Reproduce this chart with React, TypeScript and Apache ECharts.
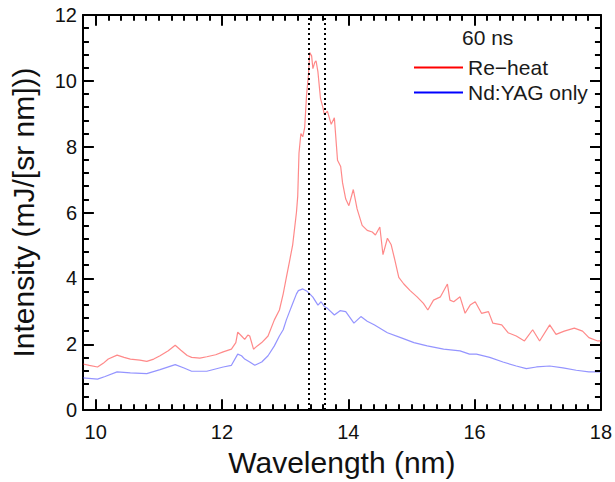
import React, { useEffect, useRef } from "react";
import * as echarts from "echarts";

// Re-heat spectrum (60 ns)
const reheatX = [9.8, 9.9, 10.03, 10.12, 10.2, 10.34, 10.45, 10.55, 10.7, 10.81, 10.92, 11.02, 11.15, 11.26, 11.35, 11.45, 11.52, 11.65, 11.76, 11.9, 12.02, 12.15, 12.22, 12.25, 12.31, 12.36, 12.41, 12.44, 12.5, 12.56, 12.63, 12.73, 12.83, 12.91, 12.97, 13.02, 13.07, 13.12, 13.18, 13.2, 13.22, 13.25, 13.28, 13.31, 13.34, 13.37, 13.39, 13.42, 13.44, 13.47, 13.49, 13.52, 13.56, 13.6, 13.62, 13.67, 13.73, 13.78, 13.83, 13.88, 13.91, 13.96, 14.01, 14.08, 14.14, 14.22, 14.3, 14.38, 14.43, 14.5, 14.55, 14.62, 14.68, 14.73, 14.8, 14.88, 14.98, 15.09, 15.19, 15.26, 15.35, 15.46, 15.57, 15.61, 15.67, 15.77, 15.85, 15.93, 16.01, 16.11, 16.22, 16.29, 16.43, 16.53, 16.66, 16.79, 16.92, 17.03, 17.19, 17.29, 17.42, 17.58, 17.71, 17.81, 17.95, 18.0];
const reheatY = [1.4, 1.36, 1.31, 1.42, 1.55, 1.67, 1.6, 1.55, 1.52, 1.48, 1.55, 1.65, 1.8, 1.97, 1.82, 1.66, 1.6, 1.58, 1.62, 1.68, 1.77, 1.85, 2.05, 2.37, 2.25, 2.15, 2.28, 2.25, 1.85, 1.95, 2.05, 2.25, 2.74, 3.04, 3.53, 4.03, 4.52, 5.02, 6.01, 6.5, 7.8, 8.4, 8.3, 8.58, 9.57, 10.2, 10.86, 10.76, 10.37, 10.56, 10.61, 10.27, 9.47, 9.18, 8.98, 9.08, 8.68, 8.88, 7.59, 7.4, 6.9, 6.41, 6.21, 6.7, 6.11, 5.61, 5.46, 5.41, 5.32, 5.56, 4.72, 5.22, 5.02, 4.62, 4.03, 3.83, 3.63, 3.44, 3.24, 3.04, 3.34, 3.44, 3.83, 3.34, 3.29, 3.44, 2.94, 3.19, 3.29, 2.94, 2.99, 2.64, 2.59, 2.35, 2.25, 2.1, 2.44, 2.1, 2.59, 2.3, 2.4, 2.49, 2.4, 2.2, 2.1, 2.1];

// Nd:YAG only spectrum
const ndX = [9.8, 10.03, 10.15, 10.34, 10.55, 10.81, 11.02, 11.26, 11.4, 11.52, 11.76, 12.02, 12.15, 12.25, 12.31, 12.36, 12.44, 12.52, 12.63, 12.73, 12.83, 12.91, 12.97, 13.02, 13.07, 13.12, 13.18, 13.21, 13.28, 13.34, 13.39, 13.44, 13.52, 13.57, 13.62, 13.67, 13.78, 13.87, 13.96, 14.09, 14.2, 14.3, 14.41, 14.62, 14.83, 15.04, 15.25, 15.51, 15.77, 15.92, 16.03, 16.24, 16.45, 16.66, 16.82, 16.98, 17.19, 17.4, 17.61, 17.81, 18.0];
const ndY = [0.98, 0.94, 1.02, 1.16, 1.13, 1.11, 1.23, 1.38, 1.28, 1.18, 1.18, 1.31, 1.36, 1.7, 1.65, 1.55, 1.46, 1.36, 1.46, 1.65, 1.95, 2.25, 2.44, 2.74, 2.99, 3.24, 3.53, 3.63, 3.68, 3.62, 3.53, 3.43, 3.19, 3.29, 3.15, 3.09, 2.89, 3.02, 2.99, 2.64, 2.84, 2.7, 2.59, 2.35, 2.2, 2.05, 1.95, 1.85, 1.8, 1.7, 1.7, 1.6, 1.46, 1.34, 1.26, 1.31, 1.34, 1.28, 1.21, 1.16, 1.16];

const markerLines = [13.38, 13.63];
const xMajorTicks = [10, 12, 14, 16, 18];
const yMajorTicks = [0, 2, 4, 6, 8, 10, 12];
const xMin = 9.8;
const xMax = 18;
const yMin = 0;
const yMax = 12;
const seriesNames = ["Re\u2212heat", "Nd:YAG only"];
const legendTitle = "60 ns";

const FONT = "'Liberation Sans', Arial, Helvetica, sans-serif";

export default function App() {
  const ref = useRef<HTMLDivElement>(null);
  useEffect(() => {
    if (!ref.current) return;
    const chart = echarts.init(ref.current, undefined, { renderer: "svg" });

    const G = { left: 80, right: 12, top: 15, bottom: 63 };
    const plotW = 615 - G.left - G.right;
    const plotH = 482 - G.top - G.bottom;
    const xPerPx = (xMax - xMin) / plotW;
    const yPerPx = (yMax - yMin) / plotH;

    const xMinorTicks: number[] = [];
    for (let i = 0; i <= 41; i++) {
      const v = Math.round((xMin + i * 0.2) * 10) / 10;
      if (v <= xMax && !xMajorTicks.includes(v)) xMinorTicks.push(v);
    }
    const yMinorTicks: number[] = [];
    for (let i = 0; i <= 30; i++) {
      const v = Math.round(i * 0.4 * 10) / 10;
      if (v <= yMax && !yMajorTicks.includes(v)) yMinorTicks.push(v);
    }
    const K = "#000";

    // inward tick segments on all four sides, in data coordinates
    const tickSegs: any[] = [];
    const addX = (vals: number[], lenPx: number) => {
      const d = lenPx * yPerPx;
      vals.forEach((v) => {
        tickSegs.push([{ coord: [v, yMin] }, { coord: [v, yMin + d] }]);
        tickSegs.push([{ coord: [v, yMax] }, { coord: [v, yMax - d] }]);
      });
    };
    const addY = (vals: number[], lenPx: number) => {
      const d = lenPx * xPerPx;
      vals.forEach((v) => {
        tickSegs.push([{ coord: [xMin, v] }, { coord: [xMin + d, v] }]);
        tickSegs.push([{ coord: [xMax, v] }, { coord: [xMax - d, v] }]);
      });
    };
    addX(xMajorTicks, 11);
    addX(xMinorTicks, 6);
    addY(yMajorTicks, 11);
    addY(yMinorTicks, 6);

    const option: any = {
      animation: false,
      grid: { ...G, containLabel: false },
      xAxis: [
        {
          type: "value",
          min: xMin,
          max: xMax,
          position: "bottom",
          splitLine: { show: false },
          axisLine: { show: true, onZero: false, lineStyle: { color: K, width: 2 } },
          axisTick: { show: false },
          axisLabel: { customValues: xMajorTicks, color: "#111", fontSize: 20, fontFamily: FONT, margin: 12 },
          name: "Wavelength (nm)",
          nameLocation: "middle",
          nameGap: 20,
          nameTextStyle: { fontSize: 30, fontFamily: FONT, color: "#111" },
        },
        {
          type: "value",
          min: xMin,
          max: xMax,
          position: "top",
          splitLine: { show: false },
          axisLine: { show: true, onZero: false, lineStyle: { color: K, width: 2 } },
          axisTick: { show: false },
          axisLabel: { show: false },
        },
      ],
      yAxis: [
        {
          type: "value",
          min: yMin,
          max: yMax,
          interval: 2,
          position: "left",
          splitLine: { show: false },
          axisLine: { show: true, onZero: false, lineStyle: { color: K, width: 2 } },
          axisTick: { show: false },
          axisLabel: { customValues: yMajorTicks, color: "#111", fontSize: 20, fontFamily: FONT, margin: 6 },
          name: "Intensity (mJ/[sr nm]))",
          nameLocation: "middle",
          nameGap: 45,
          nameTextStyle: { fontSize: 30, fontFamily: FONT, color: "#111" },
        },
        {
          type: "value",
          min: yMin,
          max: yMax,
          interval: 2,
          position: "right",
          splitLine: { show: false },
          axisLine: { show: true, onZero: false, lineStyle: { color: K, width: 2 } },
          axisTick: { show: false },
          axisLabel: { show: false },
        },
      ],
      legend: {
        orient: "vertical",
        left: 409,
        top: 52,
        itemWidth: 49,
        itemHeight: 2,
        itemGap: 4,
        icon: "rect",
        textStyle: { fontSize: 21, fontFamily: FONT, color: "#1a1a1a" },
        data: [
          { name: seriesNames[0], itemStyle: { color: "#ff0000" } },
          { name: seriesNames[1], itemStyle: { color: "#0000ff" } },
        ],
      },
      graphic: [
        {
          type: "text",
          left: 462,
          top: 27,
          style: { text: legendTitle, fontSize: 21, fontFamily: FONT, fill: "#1a1a1a" },
        },
      ],
      series: [
        {
          name: seriesNames[0],
          type: "line",
          showSymbol: false,
          symbol: "none",
          data: reheatX.map((x, i) => [x, reheatY[i]]),
          lineStyle: { color: "rgba(255,40,40,0.55)", width: 1.2 },
          itemStyle: { color: "#ff0000" },
          z: 2,
        },
        {
          name: seriesNames[1],
          type: "line",
          showSymbol: false,
          symbol: "none",
          data: ndX.map((x, i) => [x, ndY[i]]),
          lineStyle: { color: "rgba(60,60,255,0.55)", width: 1.2 },
          itemStyle: { color: "#0000ff" },
          z: 2,
        },
        {
          name: "markers",
          type: "line",
          data: [],
          z: 5,
          markLine: {
            silent: true,
            symbol: ["none", "none"],
            label: { show: false },
            lineStyle: { color: "#000", type: [2, 3], width: 2 },
            data: markerLines.map((v) => ({ xAxis: v })),
          },
        },
        {
          name: "ticks",
          type: "line",
          data: [],
          z: 6,
          clip: false,
          markLine: {
            silent: true,
            animation: false,
            symbol: ["none", "none"],
            label: { show: false },
            lineStyle: { color: "#000", type: "solid", width: 2 },
            data: tickSegs,
          },
        },
      ],
    };
    chart.setOption(option);
    return () => chart.dispose();
  }, []);
  return <div ref={ref} style={{ position: "absolute", left: 0, top: 0, width: 615, height: 482 }} />;
}
